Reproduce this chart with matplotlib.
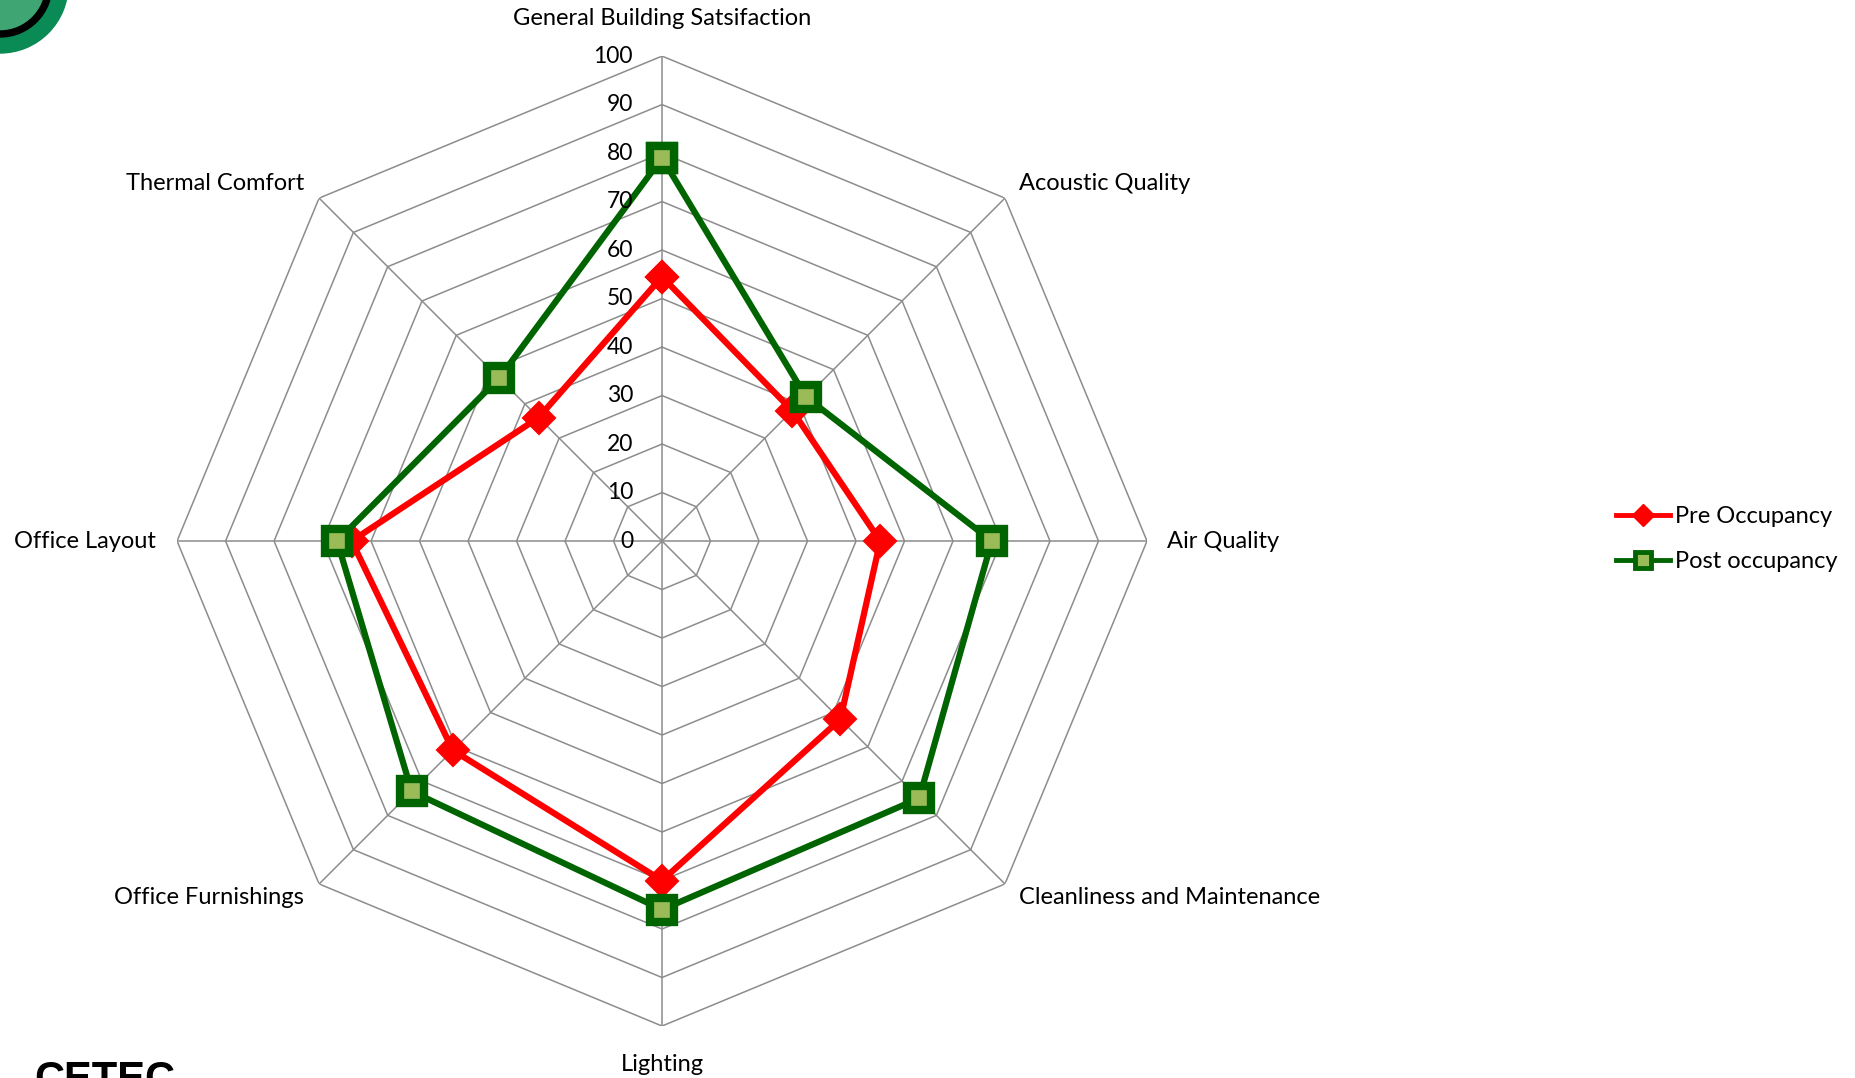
import numpy as np
import matplotlib.pyplot as plt
from matplotlib.lines import Line2D
from matplotlib.patches import Circle, Wedge
import matplotlib.transforms as mtransforms

plt.rcParams['font.family'] = ['Lato', 'DejaVu Sans']

categories = ["General Building Satsifaction", "Acoustic Quality", "Air Quality",
              "Cleanliness and Maintenance", "Lighting", "Office Furnishings",
              "Office Layout", "Thermal Comfort"]
pre_occupancy = [54.5, 38, 45, 52, 70, 61, 64, 36]
post_occupancy = [79, 42, 68, 75, 76, 73, 67, 47.5]
ring_values = [0, 10, 20, 30, 40, 50, 60, 70, 80, 90, 100]

RED = "#FF0000"
DKGREEN = "#006400"
LTGREEN = "#9BBB59"
GRID = "#8C8C8C"

fig = plt.figure(figsize=(18.56, 10.78), dpi=100)
ax = fig.add_axes([0.0954, 0.0482, 0.5226, 0.8998], projection="polar")
ax.set_theta_offset(np.pi / 2)
ax.set_theta_direction(-1)
ax.set_ylim(0, 100)
ax.grid(False)
ax.spines["polar"].set_visible(False)
ax.set_xticks([])
ax.set_yticks([])

n = len(categories)
theta = np.arange(n) * 2 * np.pi / n
theta_closed = np.append(theta, theta[0])

# octagon rings and spokes
for r in ring_values[1:]:
    ax.plot(theta_closed, [r] * (n + 1), color=GRID, lw=1.1, zorder=1)
for t in theta:
    ax.plot([t, t], [0, 100], color=GRID, lw=1.1, zorder=1)

pre = np.append(pre_occupancy, pre_occupancy[0])
post = np.append(post_occupancy, post_occupancy[0])
ax.plot(theta_closed, pre, color=RED, lw=4.5, marker="D", ms=16,
        mfc=RED, mec=RED, mew=1.5, zorder=3, clip_on=False)
ax.plot(theta_closed, post, color=DKGREEN, lw=4.5, marker="s", ms=17.5,
        mfc=LTGREEN, mec=DKGREEN, mew=6, zorder=4, clip_on=False)


def offset(dx, dy):
    return ax.transData + mtransforms.ScaledTranslation(dx / 100, dy / 100, fig.dpi_scale_trans)


# ring value labels along the top spoke
for r in ring_values:
    ax.text(0, r, str(r), transform=offset(-29, 0), ha="right", va="center",
            fontsize=16.5, color="black", zorder=5)

label_pos = [(0, 38, "center"), (14, 15, "left"), (20, 0, "left"), (14, -14, "left"),
             (0, -38, "center"), (-15, -14, "right"), (-21, 0, "right"), (-15, 15, "right")]
for t, name, (dx, dy, ha) in zip(theta, categories, label_pos):
    ax.text(t, 100, name, transform=offset(dx, dy), ha=ha, va="center",
            fontsize=17, color="black")

handles = [
    Line2D([], [], color=RED, lw=3.5, marker="D", ms=11, mfc=RED, mec=RED),
    Line2D([], [], color=DKGREEN, lw=3.5, marker="s", ms=11, mfc=LTGREEN, mec=DKGREEN, mew=3.5),
]
fig.legend(handles, ["Pre Occupancy", "Post occupancy"], loc="center left",
           bbox_to_anchor=(0.859, 0.5), frameon=False, fontsize=17,
           handlelength=2.3, handletextpad=0.2, labelspacing=1.0)

# corner logo pieces
lg = fig.add_axes([0, 0, 1, 1], zorder=-1)
lg.set_xlim(0, 1856)
lg.set_ylim(1078, 0)
lg.axis("off")
lg.add_patch(Wedge((0, -15), 68, 0, 360, width=16, color="#0A8A55"))
lg.add_patch(Circle((0, -15), 47, color="#3FA572"))
lg.add_patch(Wedge((0, -15), 52, 0, 360, width=6, color="black"))
lg.text(34, 1060, "CETEC", fontsize=30, fontweight="bold", family="Liberation Sans",
        ha="left", va="top", color="black")

fig.savefig("out.png", dpi=100)
